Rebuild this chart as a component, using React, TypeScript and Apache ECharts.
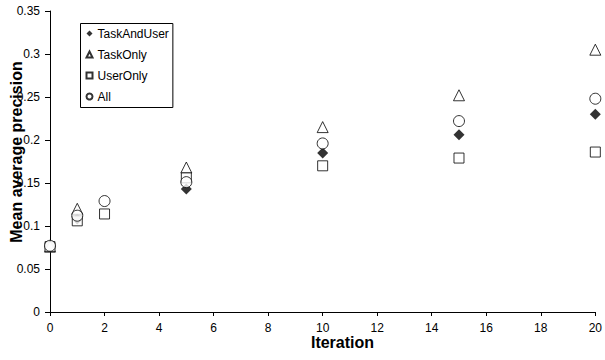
import React, { useEffect, useRef } from "react";
import * as echarts from "echarts";

const xTaskAndUser = [0, 1, 5, 10, 15, 20];
const yTaskAndUser = [0.077, 0.108, 0.143, 0.185, 0.206, 0.23];
const xTaskOnly = [0, 1, 5, 10, 15, 20];
const yTaskOnly = [0.076, 0.12, 0.168, 0.215, 0.252, 0.305];
const xUserOnly = [0, 1, 2, 5, 10, 15, 20];
const yUserOnly = [0.076, 0.106, 0.114, 0.156, 0.17, 0.179, 0.186];
const xAll = [0, 1, 2, 5, 10, 15, 20];
const yAll = [0.077, 0.112, 0.129, 0.151, 0.196, 0.222, 0.248];

const seriesNames = ["TaskAndUser", "TaskOnly", "UserOnly", "All"];
const xTitle = "Iteration";
const yTitle = "Mean average precision";

const FONT = "'Liberation Sans', Arial, sans-serif";

function pairs(xs: number[], ys: number[]) {
  return xs.map((x, i) => [x, ys[i]]);
}

export default function App() {
  const ref = useRef<HTMLDivElement>(null);
  useEffect(() => {
    if (!ref.current) return;
    const chart = echarts.init(ref.current, undefined, { renderer: "svg" });
    const hollow = { color: "#fff", borderColor: "#000", borderWidth: 1 };
    chart.setOption({
      animation: false,
      backgroundColor: "#fff",
      textStyle: { fontFamily: FONT, color: "#000" },
      grid: { left: 50, right: 5, top: 11, bottom: 48 },
      xAxis: {
        type: "value",
        min: 0,
        max: 20,
        interval: 2,
        axisLine: { lineStyle: { color: "#000", width: 1 } },
        axisTick: { show: true, length: 4, lineStyle: { color: "#000" } },
        axisLabel: { color: "#000", fontSize: 12, fontFamily: FONT, margin: 10 },
        splitLine: { show: false },
      },
      yAxis: {
        type: "value",
        min: 0,
        max: 0.35,
        interval: 0.05,
        axisLine: { show: true, lineStyle: { color: "#000", width: 1 } },
        axisTick: { show: true, length: 5, lineStyle: { color: "#000" } },
        axisLabel: { color: "#000", fontSize: 12, fontFamily: FONT, margin: 10 },
        splitLine: { show: false },
      },
      legend: {
        orient: "vertical",
        left: 80.5,
        top: 23.5,
        data: seriesNames,
        selectedMode: false,
        itemWidth: 6,
        itemHeight: 6,
        itemGap: 9,
        padding: [4, 4, 5, 5],
        backgroundColor: "#fff",
        borderColor: "#000",
        borderWidth: 1,
        textStyle: { fontSize: 12, fontFamily: FONT, color: "#000" },
      },
      graphic: [
        {
          type: "text",
          x: 16,
          y: 152,
          rotation: Math.PI / 2,
          style: {
            text: yTitle,
            fontSize: 16,
            fontWeight: "bold",
            fontFamily: FONT,
            fill: "#000",
            textAlign: "center",
            textVerticalAlign: "middle",
          },
        },
        {
          type: "text",
          x: 342.5,
          y: 342,
          style: {
            text: xTitle,
            fontSize: 16,
            fontWeight: "bold",
            fontFamily: FONT,
            fill: "#000",
            textAlign: "center",
            textVerticalAlign: "middle",
          },
        },
      ],
      series: [
        {
          name: seriesNames[0],
          type: "scatter",
          symbol: "diamond",
          symbolSize: 11,
          itemStyle: { color: "#000", borderColor: "#000", borderWidth: 0 },
          data: pairs(xTaskAndUser, yTaskAndUser),
        },
        {
          name: seriesNames[1],
          type: "scatter",
          symbol: "triangle",
          symbolSize: 11,
          itemStyle: hollow,
          data: pairs(xTaskOnly, yTaskOnly),
        },
        {
          name: seriesNames[2],
          type: "scatter",
          symbol: "rect",
          symbolSize: 10,
          itemStyle: hollow,
          data: pairs(xUserOnly, yUserOnly),
        },
        {
          name: seriesNames[3],
          type: "scatter",
          symbol: "circle",
          symbolSize: 11,
          itemStyle: hollow,
          data: pairs(xAll, yAll),
        },
      ],
    });
    return () => chart.dispose();
  }, []);
  return (
    <div
      ref={ref}
      style={{ position: "fixed", left: 0, top: 0, width: 605, height: 360 }}
    />
  );
}
